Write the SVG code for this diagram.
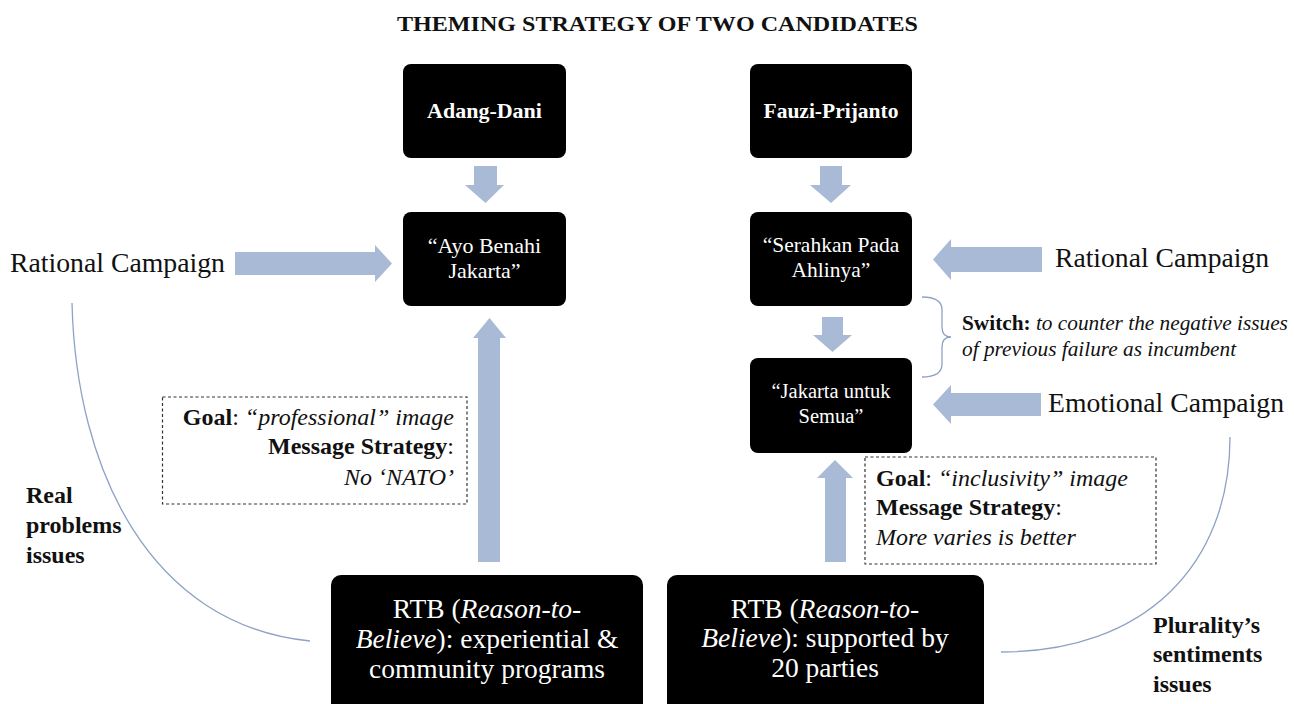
<svg xmlns="http://www.w3.org/2000/svg" width="1294" height="704" viewBox="0 0 1294 704">
<style>
.box{fill:#000;}
.arr{fill:#A9BAD7;}
.curve{fill:none;stroke:#8EA2C6;stroke-width:1.3;}
.dash{fill:none;stroke:#333;stroke-width:1.2;stroke-dasharray:3 2.5;}
.t{font-family:"Liberation Serif","Times New Roman",serif;}
.w{fill:#fff;}
.k{fill:#111;}
.b{font-weight:bold;}
.i{font-style:italic;}
</style>
<rect width="1294" height="704" fill="#fff"/>
<text class="t k b" x="657.5" y="31" font-size="21" text-anchor="middle" textLength="521" lengthAdjust="spacingAndGlyphs">THEMING STRATEGY OF TWO CANDIDATES</text>

<g id="connectors">
  <polygon class="arr" points="474,166 497,166 497,185 504,185 485.5,203 465,185 474,185"/>
  <polygon class="arr" points="820,166 842,166 842,185 851,185 831,203 810,185 820,185"/>
  <polygon class="arr" points="822,317 843,317 843,335 852,335 832.5,352 813,335 822,335"/>
  <polygon class="arr" points="478,562 500,562 500,338 506,338 489.5,318 473,338 478,338"/>
  <polygon class="arr" points="825,562 846,562 846,478 853,478 835,460 817,478 825,478"/>
  <polygon class="arr" points="235,252 375,252 375,245 392,263.5 375,282 375,275 235,275"/>
  <polygon class="arr" points="1042,247 951,247 951,239 933,259.5 951,280 951,272 1042,272"/>
  <polygon class="arr" points="1041,393 951,393 951,385 933,404.5 951,424 951,416 1041,416"/>
  <path class="curve" d="M72,303 C76,470 150,625 310,641"/>
  <path class="curve" d="M1230,437 C1230,565 1145,652 1001,652"/>
  <path class="curve" d="M922,297 Q942,297 942,310 L942,327 Q942,337 951,337 Q942,337 942,347 L942,364 Q942,377 922,377"/>
</g>

<g id="adang-dani">
  <rect class="box" x="403" y="64" width="163" height="94" rx="8"/>
  <text class="t w b" x="484.5" y="118" font-size="22" text-anchor="middle">Adang-Dani</text>
</g>
<g id="fauzi-prijanto">
  <rect class="box" x="750" y="64" width="162" height="94" rx="8"/>
  <text class="t w b" x="831" y="118" font-size="21.5" text-anchor="middle">Fauzi-Prijanto</text>
</g>
<g id="ayo-benahi">
  <rect class="box" x="403" y="212" width="163" height="94" rx="8"/>
  <text class="t w" x="484.5" y="253" font-size="22" text-anchor="middle">“Ayo Benahi</text>
  <text class="t w" x="484.5" y="278" font-size="22" text-anchor="middle">Jakarta”</text>
</g>
<g id="serahkan">
  <rect class="box" x="750" y="212" width="162" height="94" rx="8"/>
  <text class="t w" x="831" y="252" font-size="21.5" text-anchor="middle">“Serahkan Pada</text>
  <text class="t w" x="831" y="277" font-size="21.5" text-anchor="middle">Ahlinya”</text>
</g>
<g id="jakarta-untuk-semua">
  <rect class="box" x="750" y="358" width="162" height="95" rx="8"/>
  <text class="t w" x="831" y="398" font-size="20.5" text-anchor="middle">“Jakarta untuk</text>
  <text class="t w" x="831" y="423" font-size="20.5" text-anchor="middle">Semua”</text>
</g>
<g id="rtb-left">
  <rect class="box" x="331" y="575" width="312" height="140" rx="10"/>
  <text class="t w" x="487" y="618" font-size="27.5" text-anchor="middle">RTB (<tspan class="i">Reason-to-</tspan></text>
  <text class="t w" x="487" y="648" font-size="27.5" text-anchor="middle"><tspan class="i">Believe</tspan>): experiential &amp;</text>
  <text class="t w" x="487" y="678" font-size="27.5" text-anchor="middle">community programs</text>
</g>
<g id="rtb-right">
  <rect class="box" x="667" y="575" width="317" height="140" rx="10"/>
  <text class="t w" x="825" y="618" font-size="27.5" text-anchor="middle">RTB (<tspan class="i">Reason-to-</tspan></text>
  <text class="t w" x="825" y="647" font-size="27.5" text-anchor="middle"><tspan class="i">Believe</tspan>): supported by</text>
  <text class="t w" x="825" y="677" font-size="27.5" text-anchor="middle">20 parties</text>
</g>

<g id="rational-left">
  <text class="t k" x="10" y="272" font-size="27" textLength="215" lengthAdjust="spacingAndGlyphs">Rational Campaign</text>
</g>
<g id="rational-right">
  <text class="t k" x="1055" y="267" font-size="27" textLength="214" lengthAdjust="spacingAndGlyphs">Rational Campaign</text>
</g>
<g id="emotional">
  <text class="t k" x="1048" y="412" font-size="27" textLength="236" lengthAdjust="spacingAndGlyphs">Emotional Campaign</text>
</g>
<g id="switch-note">
  <text class="t k" x="962" y="330" font-size="21.3"><tspan class="b">Switch:</tspan> <tspan class="i">to counter the negative issues</tspan></text>
  <text class="t k i" x="962" y="356" font-size="21.3">of previous failure as incumbent</text>
</g>
<g id="goal-left">
  <rect class="dash" x="162.5" y="397" width="304.5" height="107"/>
  <text class="t k" x="454" y="425" font-size="24" text-anchor="end"><tspan class="b">Goal</tspan>: <tspan class="i">“professional” image</tspan></text>
  <text class="t k" x="454" y="454" font-size="24" text-anchor="end"><tspan class="b">Message Strategy</tspan>:</text>
  <text class="t k i" x="454" y="485" font-size="24" text-anchor="end">No ‘NATO’</text>
</g>
<g id="goal-right">
  <rect class="dash" x="865" y="457" width="291" height="107"/>
  <text class="t k" x="876" y="486" font-size="24"><tspan class="b">Goal</tspan>: <tspan class="i">“inclusivity” image</tspan></text>
  <text class="t k" x="876" y="515" font-size="24"><tspan class="b">Message Strategy</tspan>:</text>
  <text class="t k i" x="876" y="545" font-size="24">More varies is better</text>
</g>
<g id="real-problems">
  <text class="t k b" x="26" y="503" font-size="24">Real</text>
  <text class="t k b" x="26" y="533" font-size="24">problems</text>
  <text class="t k b" x="26" y="563" font-size="24">issues</text>
</g>
<g id="plurality">
  <text class="t k b" x="1153" y="633" font-size="24">Plurality’s</text>
  <text class="t k b" x="1153" y="662" font-size="24">sentiments</text>
  <text class="t k b" x="1153" y="692" font-size="24">issues</text>
</g>
</svg>
